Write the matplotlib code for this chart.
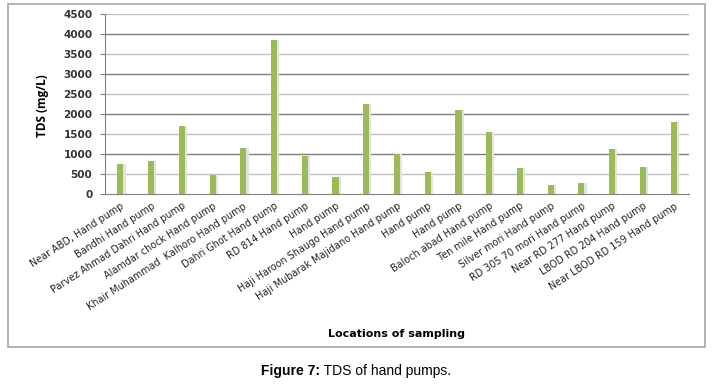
import matplotlib
matplotlib.use("Agg")
import matplotlib.pyplot as plt
from matplotlib.patches import Rectangle
import numpy as np

locations = [
    "Near ABD, Hand pump",
    "Bandhi Hand pump",
    "Parvez Ahmad Dahri Hand pump",
    "Alamdar chock Hand pump",
    "Khair Muhammad  Kalhoro Hand pump",
    "Dahri Ghot Hand pump",
    "RD 814 Hand pump",
    "Hand pump",
    "Haji Haroon Shaugo Hand pump",
    "Haji Mubarak Majidano Hand pump",
    "Hand pump",
    "Hand pump",
    "Baloch abad Hand pump",
    "Ten mile Hand pump",
    "Silver mori Hand pump",
    "RD 305 70 mori Hand pump",
    "Near RD 277 Hand pump",
    "LBOD RD 204 Hand pump",
    "Near LBOD RD 159 Hand pump",
]
tds = [745, 830, 1710, 485, 1145, 3860, 960, 420, 2250, 1000,
       545, 2100, 1550, 650, 230, 280, 1130, 670, 1800]
yticks = [0, 500, 1000, 1500, 2000, 2500, 3000, 3500, 4000, 4500]

W, H = 721, 384
fig = plt.figure(figsize=(W/100, H/100), dpi=100)
# outer frame
fig.patches.append(Rectangle((8/W, 1-347/H), (705-8)/W, (347-4)/H,
                             transform=fig.transFigure, fill=False,
                             edgecolor="#a6a6a6", linewidth=1.2))

ax = fig.add_axes([105/W, 1-194/H, (689-105)/W, (194-14)/H])
x = np.arange(len(locations))
w = 0.2
# soft shadow
ax.bar(x + 0.04, tds, width=w + 0.06, color="#e3e3e3", zorder=2)
ax.bar(x, tds, width=w, color="#9bbb59", zorder=3)

ax.set_xlim(-0.5, len(locations) - 0.5)
ax.set_ylim(0, 4500)
ax.set_yticks(yticks)
ax.set_yticklabels([str(v) for v in yticks], fontsize=7.5, fontweight="bold",
                   color="#333333")
for v in yticks[1:]:
    c = "#7f7f7f" if v % 1000 == 0 else "#c0c0c0"
    ax.axhline(v, color=c, linewidth=1.0, zorder=1)

ax.set_xticks(x)
ax.set_xticklabels(locations, rotation=33, ha="right", rotation_mode="anchor",
                   fontsize=6.9, color="#222222")
ax.tick_params(axis="x", length=0, pad=5)
ax.tick_params(axis="y", length=3.6, color="#808080", pad=5.5)
for s in ["top", "right"]:
    ax.spines[s].set_visible(False)
ax.spines["left"].set_color("#808080")
ax.spines["bottom"].set_color("#808080")

ax.set_ylabel("TDS (mg/L)", fontsize=8.5, fontweight="bold",
              fontfamily="Open Sans")
ax.yaxis.set_label_coords((49 - 105) / (689 - 105), 0.49)
fig.text(396/W, 1-334/H, "Locations of sampling", ha="center", va="center",
         fontsize=8, fontweight="bold", fontfamily="DejaVu Sans")

t1 = fig.text(261/W, 1-371/H, "Figure 7:", ha="left", va="center",
              fontsize=10, fontweight="bold", fontfamily="Liberation Sans")
fig.canvas.draw()
bb = t1.get_window_extent(renderer=fig.canvas.get_renderer())
fig.text(bb.x1/W, 1-371/H, " TDS of hand pumps.", ha="left", va="center",
         fontsize=10, fontfamily="Liberation Sans")

fig.savefig("out.png", dpi=100)
